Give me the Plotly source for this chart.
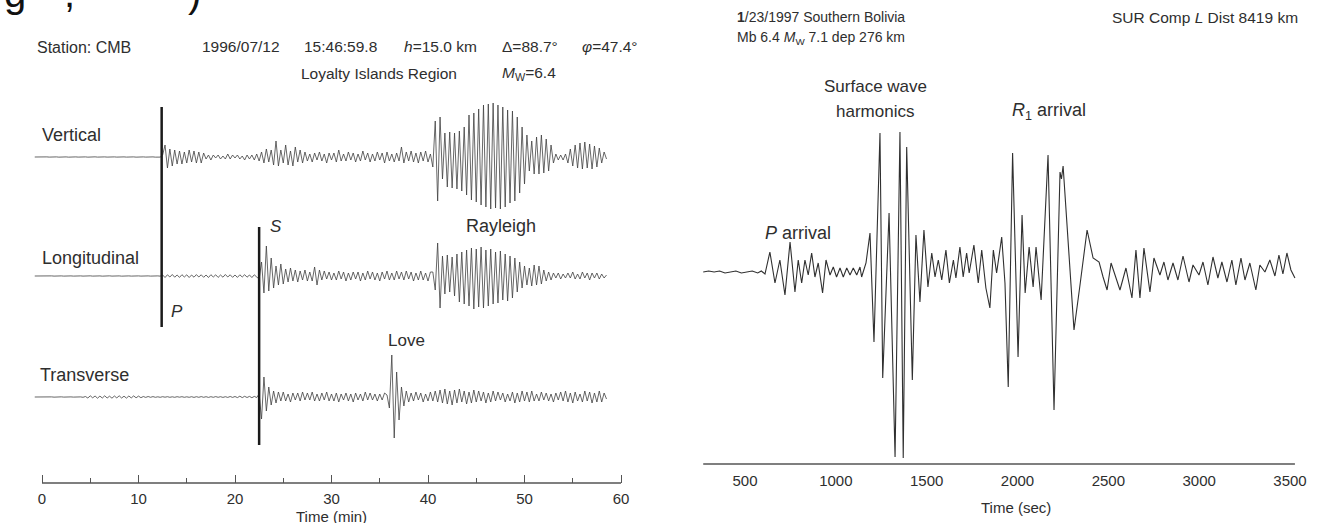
import numpy as np
import plotly.graph_objects as go

W, H = 1324, 523
FONT = "Liberation Sans, Arial, sans-serif"
TXT = "#2e2e2e"

# ---------------- Left panel data (Station CMB, time in minutes) ----------------
T0_MIN = -0.75      # first sample time (min)
DT_MIN = 0.25       # sample spacing (min)

VERTICAL = [
    0, 0.15, -0.1, 0.1, -0.15, 0.1, -0.1, 0.15, -0.1, 0.1,
    -0.15, 0.1, -0.1, 0.1, -0.15, 0.15, -0.1, 0.1, -0.1, 0.15,
    -0.1, 0.1, -0.15, 0.1, -0.1, 0.15, -0.1, 0.1, -0.15, 0.1,
    -0.1, 0.15, -0.1, 0.1, -0.1, 0.1, -0.15, 0.1, -0.1, 0.15,
    -0.1, 0.1, -0.15, 0.1, -0.1, 0.1, -0.1, 0.15, -0.1, 0.1,
    -0.15, 0.1, -0.1,
    2, 12, -11, 8, -9, 7, -7,
    6, -7, 5, -6, 7, -5, 6, -6, 5, -6, 4,
    -2, 2, -3, 2, -1, 2, -2, 1, -2, 3, -2, 2, -1, 2, -2, 1, -3, 2, -2,
    2, -3, 3,
    -4, 5, -6, 8, -5, 7, -8, 16, -9, 7, -6, 12, -8, 6, -9, 10, -5, 7, -6, 5,
    -4, 3, -5, 4, -3, 5, -4, 3, -6, 4,
    -3, 4, -5, 7, -4, 3, -4, 5, -3, 4,
    -5, 3, -4, 6, -3, 4, -5, 3, -4, 5,
    -3, 4, -6, 5, -4, 3, -5, 4, -4, 10,
    -6, 5, -4, 6, -5, 4, -6, 5, -4, 6,
    -5, 3,
    -10, 36, -44, 40, -22, 24, -30, 25, -31, 24,
    -32, 26, -34, 30, -38, 42, -43, 44, -45, 48,
    -48, 52, -50, 53, -52, 54, -51, 52, -52, 50,
    -50, 47, -46, 46, -44, 40, -36, 30, -27, 22,
    -14, 16, -17, 20, -17, 22, -16, 18, -14, 12,
    -6, 3, -3, 2, -3, 3, -6, 8, -9, 12,
    -11, 14, -12, 15, -11, 13, -12, 11, -10, 9,
    -6, 5, -2,
]

LONGITUDINAL = [
    0, 0.1, -0.1, 0.1, -0.15, 0.1, -0.1, 0.1, -0.1, 0.15,
    -0.1, 0.1, -0.1, 0.15, -0.1, 0.1, -0.1, 0.1, -0.15, 0.1,
    -0.1, 0.1, -0.1, 0.15, -0.1, 0.1, -0.1, 0.1, -0.15, 0.1,
    -0.1, 0.15, -0.1, 0.1, -0.1, 0.1, -0.15, 0.1, -0.1, 0.1,
    -0.1, 0.15, -0.1, 0.1, -0.1, 0.1, -0.15, 0.1, -0.1, 0.1,
    -0.1, 0.1, -0.15,
    1, -1.5, 1.2, -1, 1.5, -1.2, 1, -1.4, 1.3, -1,
    1.2, -1.5, 1, -1.2, 1.4, -1, 1.2, -1.3, 1, -1.5,
    1.3, -1, 1.2, -1.4, 1, -1.2, 1.5, -1, 1.2, -1.3,
    1, -1.4, 1.2, -1, 1.3, -1.2, 1, -1.5, 1.2, -1,
    -3, 14, -17, 30, -15, 18, -12, 10, -9, 12,
    -8, 7, -6, 8, -5, 6, -6, 5, -4, 6,
    -5, 4, -5, 9, -9, 6, -4, 5, -3, 4,
    -4, 3, -4, 5, -3, 4, -5, 3, -4, 4,
    -3, 4, -5, 3, -4, 5, -3, 4, -4, 3,
    -5, 4, -3, 5, -4, 3, -4, 5, -3, 4,
    -4, 5, -3, 4, -5, 3, -4, 5, -4, 3,
    -5, 4,
    4, -14, 33, -32, 20, -18, 21, -16, 19, -20,
    22, -26, 24, -28, 26, -30, 28, -33, 27, -31,
    29, -32, 26, -30, 27, -28, 24, -27, 25, -24,
    22, -25, 20, -22, 18, -16, 14, -12, 10, -9,
    8, -10, 11, -9, 10, -8, 6, -5, 4, -4,
    3, -2, 3, -3, 2, -2, 3, -2, 4, -3,
    2, -3, 4, -2, 3, -4, 3, -2, 3, -3,
    2, -2, 1,
]

TRANSVERSE = [
    0, 0.1, -0.1, 0.1, -0.15, 0.1, -0.1, 0.1, -0.15, 0.1,
    -0.1, 0.15, -0.1, 0.1, -0.15, 0.1, -0.1, 0.15, -0.1, 0.1,
    -0.3, 0.5, -1, 1.2, -0.8, 1, -1.2, 0.9, -1, 1.2,
    -1, 0.8, -1.2, 1, -0.9, 1.2, -1, 0.8, -1.1, 1,
    -0.9, 1.1, -0.8, 0.9, -0.7, 0.5, -0.4, 0.5, -0.3, 0.4,
    -0.3, 0.2, -0.3, 0.3, -0.2, 0.3, -0.3, 0.2, -0.3, 0.3,
    -0.2, 0.3, -0.3, 0.2, -0.3, 0.3, -0.4, 0.3, -0.3, 0.4,
    -0.3, 0.3, -0.4, 0.3, -0.3, 0.4, -0.3, 0.3, -0.4, 0.3,
    -0.4, 0.5, -0.4, 0.5, -0.6, 0.8, -0.6, 0.7, -0.5, 0.6,
    -0.7, 0.6, -0.5,
    3, -22, 20, -14, 10, -8, 6, -6, 5, -4,
    5, -4, 3, -5, 4, -3, 4, -4, 5, -3,
    4, -3, 5, -4, 3, -4, 4, -3, 5, -4,
    3, -4, 4, -5, 3, -3, 4, -4, 3, -5,
    4, -3, 3, -4, 5, -3, 4, -3, 3, -4,
    3, -3, 4, 2, -11,
    42, -41, 25, -23, 10, -9, 6, -5, 4, -4,
    5, -3, 4, -5, 3, -4, 5, -4, 6, -5,
    7, -6, 8, -7, 6, -8, 7, -6, 8, -5,
    6, -7, 5, -6, 7, -5, 6, -4, 5, -6,
    4, -5, 6, -4, 5, -3, 4, -5, 3, -4,
    5, -6, 4, -5, 6, -4, 5, -5, 6, -4,
    3, -4, 5, -3, 4, -4, 3, -5, 4, -3,
    5, -4, 6, -5, 4, -6, 5, -4, 3, -5,
    6, -4, 5, -6, 4, -5, 6, -5, 4, -2,
]

P_ARRIVAL_MIN = 12.4
S_ARRIVAL_MIN = 22.5
LEFT_TICKS = [0, 10, 20, 30, 40, 50, 60]
LEFT_MINOR = [5, 15, 25, 35, 45, 55]

# ---------------- Right panel data (SUR, time in seconds) ----------------
R_TIME = [270, 300, 330, 360, 390, 420, 450, 480, 510, 540, 570, 590, 610,
          637, 665, 692, 720, 748, 775, 793, 812, 830, 848, 867, 885, 903, 927, 946, 968, 986,
          1004, 1023, 1041, 1060, 1078, 1096, 1115, 1133,
          1142, 1166, 1188, 1210, 1243, 1258, 1293, 1326, 1353, 1371, 1390, 1421, 1441, 1463,
          1485, 1507, 1528, 1546, 1564, 1583, 1606, 1625, 1647, 1661, 1683, 1701, 1720, 1734,
          1760, 1784, 1803, 1826, 1848, 1867, 1885, 1913, 1931, 1949, 1973,
          2003, 2025, 2042, 2064, 2086, 2102, 2130, 2168, 2201, 2234, 2242, 2251, 2311, 2344,
          2383, 2416, 2449, 2471, 2493, 2515, 2542, 2564, 2597, 2630, 2652, 2674, 2696, 2729,
          2751, 2784, 2806, 2828, 2856, 2883, 2911, 2944, 2966, 2999, 3021, 3048, 3076, 3103,
          3125, 3153, 3180, 3202, 3230, 3252, 3279, 3312, 3334, 3362, 3389, 3417, 3439, 3461,
          3483, 3505, 3527]
R_AMP = [0, 1, 0, 1, -1, 0, 1, -1, 0, 1, -1, 1, -2,
         20, -11, 12, -23, 30, -20, 12, -11, 12, -3, 19, -5, 9, -21, 12, -3, 5,
         -5, 4, -5, 4, -3, 4, -3, 5,
         -5, 9, 39, -70, 139, -106, 59, -185, 140, -186, 125, -108, 37, -30,
         42, -15, 19, -5, 12, -8, 22, -11, 12, -6, 25, -5, 19, -1,
         27, -11, 22, -16, -36, 22, -1, 35, -11, -115, 119,
         -85, 57, -21, 25, -15, 25, -28, 117, -138, 100, 93, 106, -58, -13,
         42, 14, 10, -5, -18, 9, -5, -18, 4, -26, 22, -26, 24, -20,
         14, -3, 10, -8, 9, -8, 16, -10, 7, -3, 10, -13, 15, -6,
         10, -10, 12, -13, 14, -8, 9, -18, 7, 0, 12, -4, 17, -2,
         19, 2, -6]
RIGHT_TICKS = [500, 1000, 1500, 2000, 2500, 3000, 3500]

# ---------------- Layout geometry (pixels) ----------------
L_AXIS_Y = 483           # left axis line, px from top
R_AXIS_Y = 464           # right axis line, px from top
R_BASE_Y = 272           # right trace baseline, px from top
L_X0, L_PXMIN = 42, 9.65  # px of t=0, px per minute
R_X500, R_PXS = 745, 0.18167
L_BASE = {"Vertical": 157, "Longitudinal": 276, "Transverse": 397}


def tleft(px):
    return (px - L_X0) / L_PXMIN


def tright(px):
    return 500 + (px - R_X500) / R_PXS


fig = go.Figure()
for name, vals in [("Vertical", VERTICAL), ("Longitudinal", LONGITUDINAL), ("Transverse", TRANSVERSE)]:
    tt = T0_MIN + DT_MIN * np.arange(len(vals))
    fig.add_trace(go.Scatter(x=tt, y=(L_AXIS_Y - L_BASE[name]) + np.array(vals, float),
                             mode="lines", line=dict(color="#404040", width=0.8),
                             xaxis="x", yaxis="y", hoverinfo="skip", showlegend=False))

fig.add_trace(go.Scatter(x=R_TIME, y=(R_AXIS_Y - R_BASE_Y) + np.array(R_AMP, float),
                         mode="lines", line=dict(color="#303030", width=1.1),
                         xaxis="x2", yaxis="y2", hoverinfo="skip", showlegend=False))

SPLIT = 662
fig.update_layout(
    width=W, height=H, margin=dict(l=0, r=0, t=0, b=0),
    paper_bgcolor="white", plot_bgcolor="white", showlegend=False,
    xaxis=dict(domain=[0, SPLIT / W], range=[tleft(0), tleft(SPLIT)],
               tickmode="array", tickvals=LEFT_TICKS, ticks="inside", ticklen=8,
               tickwidth=1.3, tickcolor="#555", showgrid=False, zeroline=False, showline=False,
               tickfont=dict(family=FONT, size=15, color=TXT), ticklabelstandoff=5,
               minor=dict(tickvals=LEFT_MINOR, ticks="inside", ticklen=5, tickwidth=1.2,
                          tickcolor="#555", showgrid=False),
               anchor="y"),
    yaxis=dict(domain=[1 - L_AXIS_Y / H, 1], range=[0, L_AXIS_Y], showgrid=False,
               zeroline=False, showticklabels=False, showline=False, ticks=""),
    xaxis2=dict(domain=[SPLIT / W, 1], range=[tright(SPLIT), tright(W)],
                tickmode="array", tickvals=RIGHT_TICKS, ticks="", showgrid=False,
                zeroline=False, showline=False, ticklabelstandoff=6,
                tickfont=dict(family=FONT, size=15, color=TXT), anchor="y2"),
    yaxis2=dict(domain=[1 - R_AXIS_Y / H, 1], range=[0, R_AXIS_Y], showgrid=False,
                zeroline=False, showticklabels=False, showline=False, ticks="", anchor="x2"),
)

# axis lines
fig.add_shape(type="line", xref="x", yref="y domain", x0=LEFT_TICKS[0], x1=LEFT_TICKS[-1],
              y0=0, y1=0, line=dict(color="#555", width=1.5))
fig.add_shape(type="line", xref="x2", yref="y2 domain", x0=R_TIME[0], x1=R_TIME[-1],
              y0=0, y1=0, line=dict(color="#555", width=1.5))
# P and S arrival markers
fig.add_shape(type="line", xref="x", yref="y", x0=P_ARRIVAL_MIN, x1=P_ARRIVAL_MIN,
              y0=L_AXIS_Y - 327, y1=L_AXIS_Y - 107, line=dict(color="#1a1a1a", width=2.5))
fig.add_shape(type="line", xref="x", yref="y", x0=S_ARRIVAL_MIN, x1=S_ARRIVAL_MIN,
              y0=L_AXIS_Y - 445, y1=L_AXIS_Y - 227, line=dict(color="#1a1a1a", width=2.5))


def ann(text, x, y, size=15, xanchor="left", yanchor="middle", color=TXT):
    fig.add_annotation(text=text, x=x / W, y=1 - y / H, xref="paper", yref="paper",
                       xanchor=xanchor, yanchor=yanchor, showarrow=False,
                       font=dict(family=FONT, size=size, color=color))


# clipped caption remnants at the top-left edge
ann("g", 2, 17, size=40, yanchor="bottom", color="#111")
ann(",", 62, 17, size=40, yanchor="bottom", color="#111")
ann(")", 186, 17, size=40, yanchor="bottom", color="#111")

# left panel texts
ann("Station: CMB", 35, 48, size=16)
ann("1996/07/12", 200, 47, size=15.5)
ann("15:46:59.8", 302, 47, size=15.5)
ann("<i>h</i>=15.0 km", 402, 47, size=15.5)
ann("Δ=88.7°", 500, 47, size=15.5)
ann("<i>φ</i>=47.4°", 640, 47, size=15.5, xanchor="right")
ann("Loyalty Islands Region", 299, 74, size=15.5)
ann("<i>M</i><sub>W</sub>=6.4", 500, 74, size=15.5)
ann("Vertical", 40, 135, size=18)
ann("Longitudinal", 40, 258, size=18)
ann("Transverse", 38, 375, size=18)
ann("<i>S</i>", 276, 227, size=17, xanchor="center")
ann("Rayleigh", 501, 226, size=18, xanchor="center")
ann("<i>P</i>", 177, 311, size=17, xanchor="center")
ann("Love", 406, 340, size=17, xanchor="center")
ann("Time (min)", 331, 516, size=15, xanchor="center")

# right panel texts
ann("<b>1</b>/23/1997 Southern Bolivia", 735, 17, size=14)
ann("Mb 6.4 <i>M</i><sub>W</sub> 7.1 dep 276 km", 735, 38, size=14)
ann("SUR Comp <i>L</i> Dist 8419 km", 1300, 17, size=15.5, xanchor="right")
ann("Surface wave", 875, 87, size=17, xanchor="center")
ann("harmonics", 875, 112, size=17, xanchor="center")
ann("<i>R</i><sub>1</sub> arrival", 1010, 112, size=18)
ann("<i>P</i> arrival", 763, 233, size=18)
ann("Time (sec)", 1016, 507, size=15, xanchor="center")

fig.write_html("out.html")
